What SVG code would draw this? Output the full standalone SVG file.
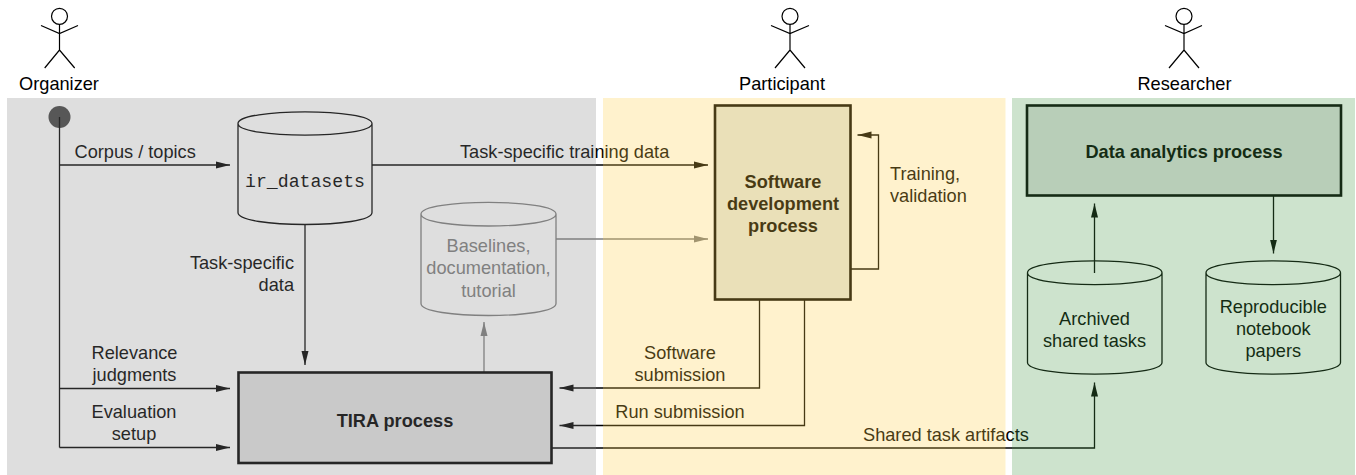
<svg xmlns="http://www.w3.org/2000/svg" width="1356" height="475" viewBox="0 0 1356 475">
<style>
text{font-family:"Liberation Sans",Arial,sans-serif;font-size:18.2px;fill:#000}
.b{font-weight:bold}
.m{text-anchor:middle}
.e{text-anchor:end}
.mono{font-family:"Liberation Mono","Courier New",monospace}
.g{fill:#7d7d7d}
.box{fill:#e2e2e2;stroke:#000;stroke-width:2.6}
.cyl{fill:none;stroke:#000;stroke-width:1.3}
.cylg{fill:none;stroke:#7d7d7d;stroke-width:1.3}
.act{fill:none;stroke:#000;stroke-width:1.2}
.c{fill:none;stroke:#000;stroke-width:1.3;marker-end:url(#a)}
.cn{fill:none;stroke:#000;stroke-width:1.3}
.cg{fill:none;stroke:#7d7d7d;stroke-width:1.3;marker-end:url(#ag)}
</style>
<defs>
<marker id="a" markerUnits="userSpaceOnUse" markerWidth="16" markerHeight="10" refX="14" refY="4" orient="auto"><path d="M0 0.500L14 4L0 7.500L0 0.500Z" fill="#000"/></marker>
<marker id="ag" markerUnits="userSpaceOnUse" markerWidth="16" markerHeight="10" refX="14" refY="4" orient="auto"><path d="M0 0.500L14 4L0 7.500L0 0.500Z" fill="#7d7d7d"/></marker>
</defs>
<rect width="1356" height="475" fill="#fff"/>
<g id="organizer"><circle class="act" cx="59.5" cy="16.3" r="8"/><path class="act" d="M59.5 24.3V50M41 25.5L59.5 33.5L78 25.5M44.7 68L59.5 50L74.7 68"/><text class="m" x="59" y="90">Organizer</text></g>
<g id="participant"><circle class="act" cx="790" cy="16.3" r="8"/><path class="act" d="M790 24.3V50M771 25.5L790 33.5L809 25.5M775 68L790 50L805 68"/><text class="m" x="782" y="90">Participant</text></g>
<g id="researcher"><circle class="act" cx="1184" cy="16.3" r="8"/><path class="act" d="M1184 24.3V50M1165 25.5L1184 33.5L1202 25.5M1169 68L1184 50L1199 68"/><text class="m" x="1184.5" y="90">Researcher</text></g>
<g id="connectors">
<circle cx="59.5" cy="117" r="11" fill="#444"/>
<path class="cn" d="M59.5 117V447.5"/>
<path class="c" d="M59.5 165H230"/>
<path class="c" d="M59.5 388.5H230"/>
<path class="c" d="M59.5 447.5H230"/>
<path class="c" d="M372 165H708"/>
<path class="c" d="M305 224.5V365"/>
<path class="cg" d="M556 239H708"/>
<path class="cg" d="M484 372V322"/>
<path class="c" d="M851 269H878.500V135H857.500"/>
<path class="c" d="M759.5 299V388H559.5"/>
<path class="c" d="M804.5 299V425.5H559.5"/>
<path class="c" d="M551 448H1094.5V382.5"/>
<path class="c" d="M1094.5 273V203.5"/>
<path class="c" d="M1273.5 195V253.5"/>
<text x="74.5" y="157.500">Corpus / topics</text>
<text x="460" y="157.500">Task-specific training data</text>
<text class="e" x="294" y="269">Task-specific</text>
<text class="e" x="294" y="291">data</text>
<text class="m" x="134.5" y="359">Relevance</text>
<text class="m" x="134.5" y="381">judgments</text>
<text class="m" x="134" y="418">Evaluation</text>
<text class="m" x="134" y="440">setup</text>
<text x="890" y="180">Training,</text>
<text x="890" y="202">validation</text>
<text class="m" x="680" y="359">Software</text>
<text class="m" x="680" y="381">submission</text>
<text class="m" x="680" y="418">Run submission</text>
<text x="863" y="441">Shared task artifacts</text>
</g>
<g id="ir_datasets"><path class="cyl" d="M238 123.5C238 108 372 108 372 123.5V212.5C372 228.5 238 228.5 238 212.5ZM238 123.5C238 139 372 139 372 123.5"/><text class="mono m" x="305" y="187">ir_datasets</text></g>
<g id="baselines"><path class="cylg" d="M421 214C421 198.500 556 198.500 556 214V303.500C556 319.500 421 319.500 421 303.500ZM421 214C421 230 556 230 556 214"/><text class="g m" x="488.500" y="252">Baselines,</text><text class="g m" x="488.500" y="274">documentation,</text><text class="g m" x="488.500" y="297">tutorial</text></g>
<g id="tira"><rect class="box" x="238.500" y="372.500" width="313" height="90.500"/><text class="b m" x="395" y="426.500">TIRA process</text></g>
<g id="software"><rect class="box" style="fill:#e2e6e2" x="715" y="105.500" width="135.500" height="194"/><text class="b m" x="783" y="188">Software</text><text class="b m" x="783" y="210">development</text><text class="b m" x="783" y="232">process</text></g>
<g id="analytics"><rect class="box" x="1027" y="105.500" width="314" height="90"/><text class="b m" x="1184" y="157.500">Data analytics process</text></g>
<g id="archived"><path class="cyl" d="M1027.500 272.700C1027.500 257 1162 257 1162 272.700V362.500C1162 378 1027.500 378 1027.500 362.500ZM1027.500 272.700C1027.500 288.500 1162 288.500 1162 272.700"/><text class="m" x="1094.500" y="325">Archived</text><text class="m" x="1094.500" y="347">shared tasks</text></g>
<g id="notebooks"><path class="cyl" d="M1206 272.700C1206 257 1340.500 257 1340.500 272.700V362.500C1340.500 378 1206 378 1206 362.500ZM1206 272.700C1206 288.500 1340.500 288.500 1340.500 272.700"/><text class="m" x="1273.300" y="313">Reproducible</text><text class="m" x="1273.300" y="335">notebook</text><text class="m" x="1273.300" y="357">papers</text></g>
<g id="panels">
<rect x="7" y="98" width="589" height="377" fill="#888" fill-opacity="0.28"/>
<rect x="603" y="98" width="402.500" height="377" fill="#ffd04a" fill-opacity="0.28"/>
<rect x="1012" y="98" width="343" height="377" fill="#4a9a4a" fill-opacity="0.28"/>
</g>
</svg>
